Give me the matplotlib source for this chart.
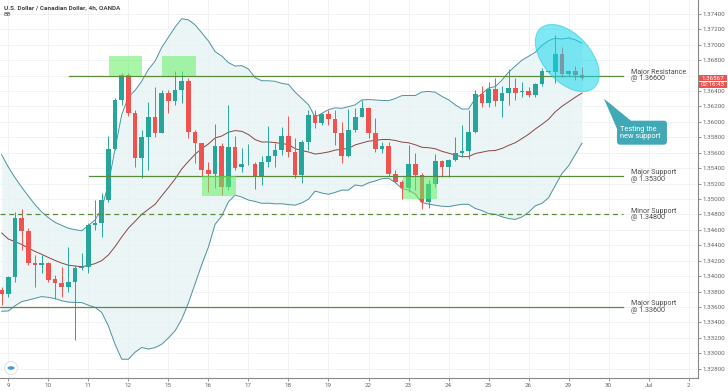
import numpy as np
import pandas as pd
import matplotlib
matplotlib.use("Agg")
import matplotlib.pyplot as plt
from matplotlib.patches import Rectangle, Ellipse, FancyBboxPatch, Polygon, Circle
from matplotlib.transforms import IdentityTransform

plt.rcParams["font.family"] = ["Roboto", "DejaVu Sans"]

# 4h candles, USD/CAD (OANDA)
opens = [1.33821, 1.33769, 1.33993, 1.34749, 1.34590, 1.34166, 1.34149, 1.34166, 1.33959, 1.33916,
         1.33864, 1.33929, 1.34101, 1.34114, 1.34663, 1.34685, 1.34987, 1.35644, 1.36283, 1.36607,
         1.36119, 1.35536, 1.35799, 1.36067, 1.35860, 1.36378, 1.36274, 1.36413, 1.36534, 1.35873,
         1.35721, 1.35376, 1.35320, 1.35687, 1.35160, 1.35678, 1.35419, 1.35449, 1.35454, 1.35298,
         1.35484, 1.35557, 1.35635, 1.35816, 1.35613, 1.35307, 1.35743, 1.36084, 1.35989, 1.36102,
         1.36032, 1.35860, 1.35557, 1.35894, 1.36067, 1.36175, 1.35860, 1.35644, 1.35687, 1.35324,
         1.35225, 1.35138, 1.35449, 1.35311, 1.34957, 1.35190, 1.35492, 1.35410, 1.35505, 1.35600,
         1.35626, 1.35868, 1.36361, 1.36240, 1.36421, 1.36274, 1.36378, 1.36434, 1.36387, 1.36404,
         1.36344, 1.36490, 1.36663, 1.36646, 1.36879, 1.36616, 1.36655, 1.36607]
highs = [1.33864, 1.34002, 1.34836, 1.34866, 1.34620, 1.34274, 1.34274, 1.34188, 1.34015, 1.34123,
         1.34374, 1.34145, 1.34296, 1.34685, 1.34987, 1.35073, 1.35816, 1.36305, 1.36637, 1.36629,
         1.36153, 1.35894, 1.36261, 1.36447, 1.36413, 1.36413, 1.36659, 1.36659, 1.36564, 1.35894,
         1.35730, 1.35484, 1.35968, 1.35721, 1.36218, 1.35816, 1.35657, 1.35713, 1.35484, 1.35557,
         1.35946, 1.35721, 1.35937, 1.36076, 1.35786, 1.35765, 1.36153, 1.36153, 1.36110, 1.36153,
         1.36153, 1.36002, 1.36162, 1.36175, 1.36283, 1.36188, 1.36045, 1.35743, 1.35743, 1.35376,
         1.35246, 1.35700, 1.35592, 1.35333, 1.35246, 1.35583, 1.35505, 1.35514, 1.35799, 1.35959,
         1.36153, 1.36413, 1.36464, 1.36521, 1.36564, 1.36464, 1.36680, 1.36564, 1.36521, 1.36447,
         1.36508, 1.36693, 1.36672, 1.37125, 1.36966, 1.36672, 1.36724, 1.36706]
lows = [1.33626, 1.33734, 1.33929, 1.34339, 1.34145, 1.33864, 1.34037, 1.33929, 1.33700, 1.33734,
        1.33799, 1.33173, 1.34080, 1.34037, 1.34598, 1.34512, 1.34965, 1.35635, 1.36218, 1.36076,
        1.35410, 1.35268, 1.35376, 1.35808, 1.35851, 1.36110, 1.36218, 1.36240, 1.35786, 1.35462,
        1.35289, 1.35095, 1.35138, 1.35052, 1.35117, 1.35376, 1.35354, 1.35441, 1.35125, 1.35181,
        1.35419, 1.35419, 1.35570, 1.35549, 1.35268, 1.35203, 1.35635, 1.35916, 1.35959, 1.35959,
        1.35700, 1.35462, 1.35549, 1.35873, 1.36058, 1.35786, 1.35613, 1.35600, 1.35298, 1.35203,
        1.34996, 1.35095, 1.35117, 1.34866, 1.34879, 1.35160, 1.35289, 1.35289, 1.35497, 1.35549,
        1.35514, 1.35860, 1.36197, 1.36197, 1.36205, 1.36067, 1.36218, 1.36283, 1.36326, 1.36326,
        1.36326, 1.36464, 1.36637, 1.36508, 1.36585, 1.36594, 1.36542, 1.36542]
closes = [1.33769, 1.33993, 1.34749, 1.34590, 1.34166, 1.34145, 1.34166, 1.33950, 1.33916, 1.33864,
          1.33929, 1.34101, 1.34123, 1.34663, 1.34685, 1.34987, 1.35644, 1.36283, 1.36607, 1.36119,
          1.35536, 1.35799, 1.36067, 1.35860, 1.36378, 1.36274, 1.36413, 1.36534, 1.35873, 1.35721,
          1.35376, 1.35320, 1.35687, 1.35160, 1.35678, 1.35397, 1.35454, 1.35454, 1.35298, 1.35484,
          1.35557, 1.35635, 1.35816, 1.35613, 1.35307, 1.35743, 1.36084, 1.35989, 1.36102, 1.36032,
          1.35860, 1.35557, 1.35894, 1.36067, 1.36175, 1.35860, 1.35644, 1.35687, 1.35324, 1.35225,
          1.35138, 1.35449, 1.35311, 1.34957, 1.35190, 1.35492, 1.35410, 1.35505, 1.35600, 1.35626,
          1.35868, 1.36361, 1.36240, 1.36421, 1.36274, 1.36378, 1.36434, 1.36378, 1.36400, 1.36344,
          1.36490, 1.36663, 1.36646, 1.36879, 1.36616, 1.36655, 1.36607, 1.36567]
# closes before the visible window (only needed to warm up the bands)
prior_closes = [1.3556, 1.3545, 1.3528, 1.3512, 1.3502, 1.3490, 1.3478, 1.3468, 1.3455, 1.3447,
                1.3433, 1.3428, 1.3432, 1.3425, 1.3420, 1.3418, 1.3412, 1.3410, 1.3383]

day_labels = ["9", "10", "11", "12", "15", "16", "17", "18", "19", "22", "23", "24",
              "25", "26", "29", "30", "Jul", "2"]
price_ticks = np.round(np.arange(1.328, 1.3741, 0.002), 3)

levels = [1.366, 1.353, 1.348, 1.336]
level_names = ["Major Resistance", "Major Support", "Minor Support", "Major Support"]
level_start = [10.1, 13.1, -0.3, -0.3]
level_dashed = [False, False, True, False]

# highlighted zones: (first candle, last candle, low, high)
zone_x0 = [16.1, 24.1, 30.1, 60.2]
zone_x1 = [21.1, 29.2, 35.2, 65.2]
zone_lo = [1.3660, 1.3660, 1.3504, 1.3500]
zone_hi = [1.3685, 1.3685, 1.3530, 1.3529]

last_price_txt = "1.36567"
countdown_txt = "02:16:43"

UP = "#26a69a"
DOWN = "#ef5350"

n = len(closes)
idx = np.arange(n)

full = pd.Series(prior_closes + closes)
basis = full.rolling(20).mean().values[-n:]
dev = full.rolling(20).std(ddof=0).values[-n:]
upper = basis + 2 * dev
lower = basis - 2 * dev

fig = plt.figure(figsize=(7.28, 3.91), dpi=100)
ax = fig.add_axes([0, 13 / 391, 698 / 728, 378 / 391])
ax.set_xlim(-0.25, 104.4)
ax.set_ylim(1.3268, 1.37579)

tick_pos = [1 + 6 * k for k in range(len(day_labels))]
ax.set_xticks(tick_pos)
ax.set_xticklabels(day_labels)
ax.set_yticks(price_ticks)
# the 1.36600 label sits under the last price tag
ax.set_yticklabels(["" if abs(v - 1.366) < 1e-6 else "%.5f" % v for v in price_ticks])
ax.yaxis.tick_right()
ax.grid(True, color="#eef0f3", lw=0.6)
ax.set_axisbelow(True)
for s in ["top", "left"]:
    ax.spines[s].set_visible(False)
for s in ["right", "bottom"]:
    ax.spines[s].set_color("#888888")
    ax.spines[s].set_linewidth(0.8)
ax.tick_params(axis="both", labelsize=4.5, colors="#666666", length=2, width=0.5, pad=1.5)

# bollinger bands
ax.fill_between(idx, lower, upper, color="#e6f2f4", alpha=0.75, lw=0, zorder=1)
ax.plot(idx, upper, color="#4b93a0", lw=0.7, zorder=2)
ax.plot(idx, lower, color="#4b93a0", lw=0.7, zorder=2)
ax.plot(idx, basis, color="#8a4545", lw=0.7, zorder=2)

# candles
for i in range(n):
    o, h, l, c = opens[i], highs[i], lows[i], closes[i]
    col = UP if c >= o else DOWN
    ax.vlines(i, l, h, color=col, lw=0.7, zorder=3)
    body = max(abs(c - o), 0.00004)
    ax.bar(i, body, bottom=min(o, c), width=0.7, color=col, lw=0, zorder=3)

# support / resistance levels
for lv, name, x0, dashed in zip(levels, level_names, level_start, level_dashed):
    ax.plot([x0, 93.2], [lv, lv], color="#5a8a3c", lw=0.9,
            ls=(0, (4, 3)) if dashed else "-", zorder=4)
    ax.text(94.3, lv, "%s\n@ %.5f" % (name, lv), fontsize=5.1, color="#4a4a4a",
            va="center", ha="left", linespacing=0.95, zorder=5)

# green zones
for x0, x1, lo, hi in zip(zone_x0, zone_x1, zone_lo, zone_hi):
    ax.add_patch(Rectangle((x0, lo), x1 - x0, hi - lo, facecolor="#63f063",
                           alpha=0.55, lw=0, zorder=5))

fig.canvas.draw()
to_px = ax.transData.transform

# cyan ellipse around the last candles
cx, cy = to_px((84.8, 1.36827))
ax.add_artist(Ellipse((cx, cy), 80, 47, angle=-48, transform=IdentityTransform(),
                      facecolor="#16d6ee", alpha=0.55, edgecolor="#25c8de", lw=0.8,
                      zorder=6, clip_on=False))

# callout
tx, ty = to_px((90.3, 1.3630))
box_l, box_t = tx + 13, ty - 22
callout_col = "#41a9b6"
ax.add_artist(FancyBboxPatch((box_l, box_t - 24), 50, 24,
                             boxstyle="round,pad=0,rounding_size=3",
                             transform=IdentityTransform(), facecolor=callout_col,
                             edgecolor="none", zorder=7, clip_on=False))
ax.add_artist(Polygon([(tx, ty), (box_l, box_t - 8), (box_l + 14, box_t)], closed=True,
                      transform=IdentityTransform(), facecolor=callout_col,
                      edgecolor="none", zorder=7, clip_on=False))
ax.text(box_l + 3, box_t - 12, "Testing the\nnew support", transform=IdentityTransform(),
        fontsize=5.3, color="white", va="center", ha="left", linespacing=0.95, zorder=8)

# last price tag + countdown on the price scale
yax = ax.get_yaxis_transform()
tag_h = 0.00082
ax.add_patch(Rectangle((1.001, closes[-1] - tag_h / 2), 0.041, tag_h, transform=yax,
                       facecolor=DOWN, edgecolor="none", clip_on=False, zorder=9))
ax.add_patch(Rectangle((1.001, closes[-1] - tag_h * 1.55), 0.041, tag_h, transform=yax,
                       facecolor=DOWN, edgecolor="none", clip_on=False, zorder=9))
ax.text(1.0215, closes[-1], last_price_txt, transform=yax, fontsize=4.5, color="white",
        ha="center", va="center", clip_on=False, zorder=10)
ax.text(1.0215, closes[-1] - tag_h * 1.05, countdown_txt, transform=yax, fontsize=4.5,
        color="white", ha="center", va="center", clip_on=False, zorder=10)

# header
fig.text(4 / 728, 1 - 7.5 / 391, "U.S. Dollar / Canadian Dollar, 4h, OANDA", fontsize=4.6,
         color="#444444", fontweight="bold", va="center")
fig.text(4 / 728, 1 - 14.5 / 391, "BB", fontsize=4.4, color="#555555", va="center")

# little logo bottom-left
lx, ly = 11, 391 - 368
fig.patches.append(Circle((lx, ly), 6.5, transform=IdentityTransform(), facecolor="white",
                          edgecolor="#d8dde6", lw=0.6, figure=fig))
fig.patches.append(Ellipse((lx, ly), 7, 3.5, transform=IdentityTransform(),
                           facecolor="#3a9be8", edgecolor="none", figure=fig))

fig.savefig("out.png", dpi=100)
